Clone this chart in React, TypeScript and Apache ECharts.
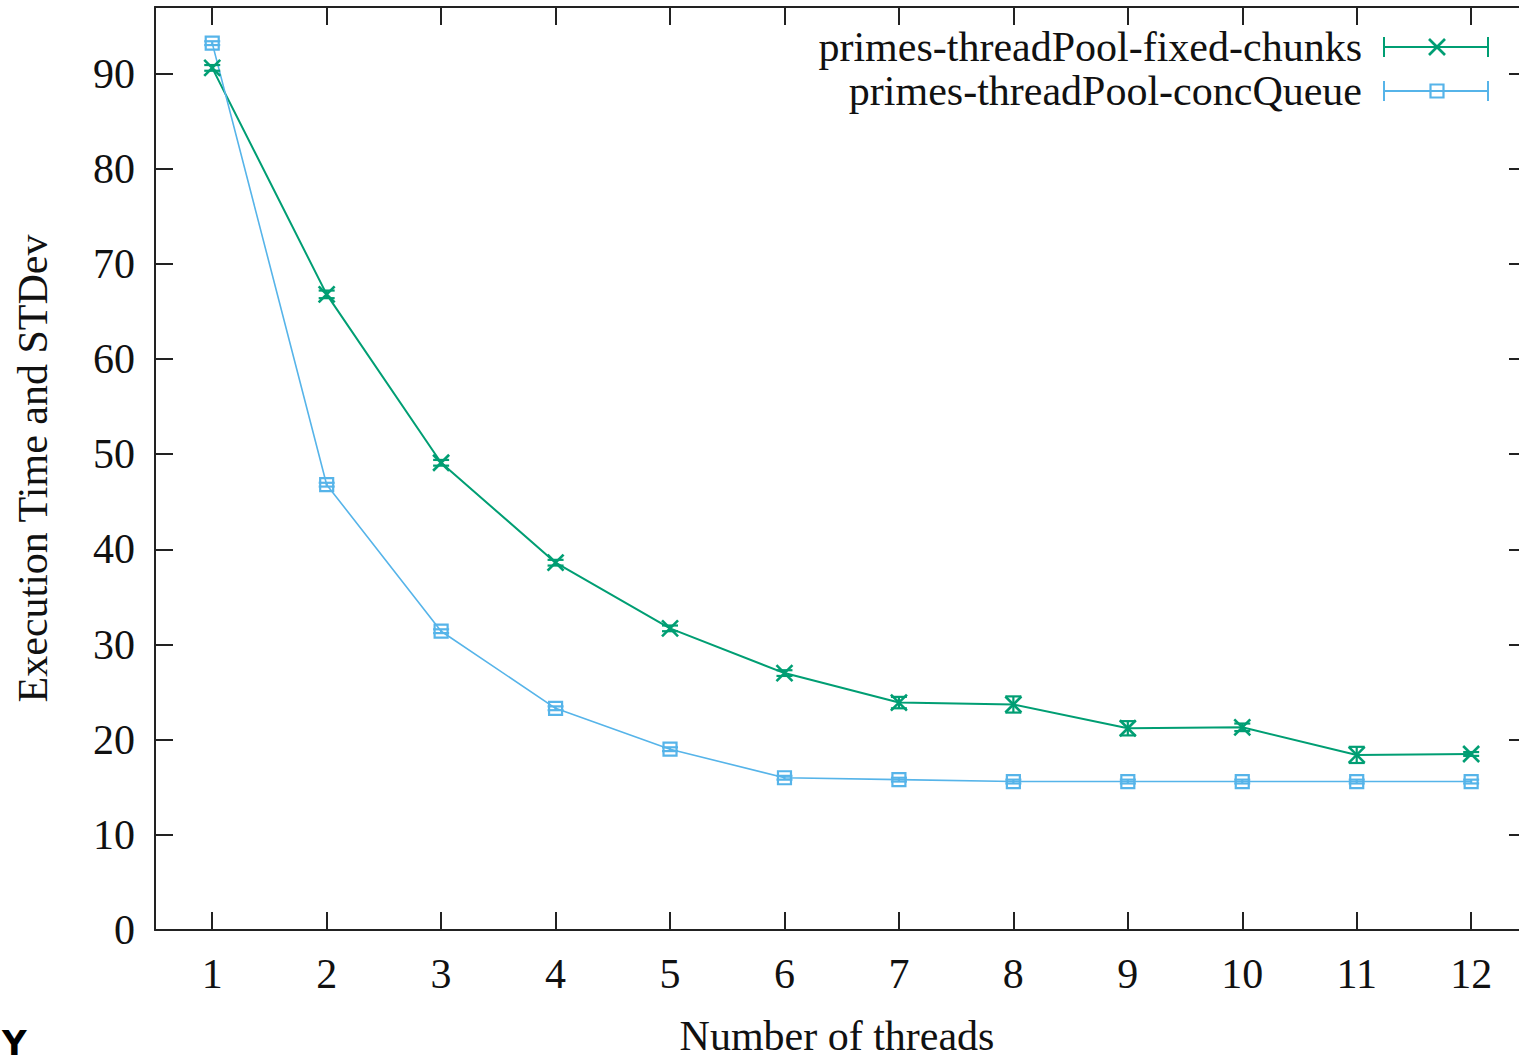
import React, { useEffect, useRef } from "react";
import * as echarts from "echarts";

const threads = [1, 2, 3, 4, 5, 6, 7, 8, 9, 10, 11, 12];
const seriesNames = ["primes-threadPool-fixed-chunks", "primes-threadPool-concQueue"];
const fixedChunksMean = [90.6, 66.8, 49.1, 38.6, 31.7, 27.0, 23.9, 23.7, 21.2, 21.3, 18.4, 18.5];
const fixedChunksStd = [0.3, 0.4, 0.3, 0.3, 0.3, 0.3, 0.6, 0.85, 0.75, 0.4, 0.85, 0.2];
const concQueueMean = [93.2, 46.8, 31.4, 23.3, 19.0, 16.0, 15.8, 15.6, 15.6, 15.6, 15.6, 15.6];
const concQueueStd = [0.2, 0.2, 0.2, 0.2, 0.2, 0.2, 0.2, 0.2, 0.2, 0.2, 0.2, 0.2];
const yTicks = [0, 10, 20, 30, 40, 50, 60, 70, 80, 90];
const yMax = 97;
const xMin = 0.5;
const xMax = 12.418;

const GREEN = "#009e73";
const BLUE = "#56b4e9";
const FONT = "'Liberation Serif', 'Times New Roman', serif";
const AXIS = "#222222";
const FS = 42;

function markerChildren(kind: string, cx: number, cy: number, color: string) {
  const s = 8;
  if (kind === "cross") {
    return [
      { type: "line", shape: { x1: cx - s, y1: cy - s, x2: cx + s, y2: cy + s }, style: { stroke: color, lineWidth: 2.6 } },
      { type: "line", shape: { x1: cx - s, y1: cy + s, x2: cx + s, y2: cy - s }, style: { stroke: color, lineWidth: 2.6 } },
    ];
  }
  return [
    { type: "rect", shape: { x: cx - 6.5, y: cy - 6.5, width: 13, height: 13 }, style: { stroke: color, lineWidth: 2.2, fill: "none" } },
  ];
}

function errorSeries(name: string, mean: number[], std: number[], color: string, kind: string) {
  return {
    type: "custom",
    name: name + " err",
    xAxisIndex: 0,
    yAxisIndex: 0,
    z: 5,
    data: mean.map((m, i) => [threads[i], m, std[i]]),
    renderItem: (params: any, api: any) => {
      const x = api.value(0);
      const m = api.value(1);
      const sd = api.value(2);
      const c = api.coord([x, m]);
      const top = api.coord([x, m + sd]);
      const bot = api.coord([x, m - sd]);
      const cap = 8;
      const st = { stroke: color, lineWidth: 2.2 };
      return {
        type: "group",
        children: [
          { type: "line", shape: { x1: c[0], y1: top[1], x2: c[0], y2: bot[1] }, style: st },
          { type: "line", shape: { x1: c[0] - cap, y1: top[1], x2: c[0] + cap, y2: top[1] }, style: st },
          { type: "line", shape: { x1: c[0] - cap, y1: bot[1], x2: c[0] + cap, y2: bot[1] }, style: st },
          ...markerChildren(kind, c[0], c[1], color),
        ],
      };
    },
  };
}

function legendGraphic() {
  const rows = [
    { name: seriesNames[0], color: GREEN, kind: "cross", y: 47 },
    { name: seriesNames[1], color: BLUE, kind: "square", y: 91 },
  ];
  const els: any[] = [];
  rows.forEach((r) => {
    els.push({
      type: "text",
      x: 1362,
      y: r.y,
      style: { text: r.name, font: `${FS}px ${FONT}`, fill: "#111", align: "right", verticalAlign: "middle" },
    });
    const st = { stroke: r.color, lineWidth: 2 };
    els.push({ type: "line", shape: { x1: 1384, y1: r.y, x2: 1488, y2: r.y }, style: st });
    els.push({ type: "line", shape: { x1: 1384, y1: r.y - 10, x2: 1384, y2: r.y + 10 }, style: st });
    els.push({ type: "line", shape: { x1: 1488, y1: r.y - 10, x2: 1488, y2: r.y + 10 }, style: st });
    markerChildren(r.kind, 1437, r.y, r.color).forEach((m: any) => els.push(m));
  });
  els.push({
    type: "text",
    x: 2,
    y: 1026,
    style: { text: "Y", font: "bold 34px 'DejaVu Sans', sans-serif", fill: "#000" },
  });
  return els;
}

export default function App() {
  const ref = useRef<HTMLDivElement>(null);
  useEffect(() => {
    if (!ref.current) return;
    const chart = echarts.init(ref.current, null, { renderer: "svg" });
    const axisLineStyle = { color: AXIS, width: 2 };
    chart.setOption({
      animation: false,
      backgroundColor: "#ffffff",
      grid: { left: 155, top: 7, right: 0, bottom: 127, containLabel: false },
      xAxis: [
        {
          type: "value",
          min: xMin,
          max: xMax,
          position: "bottom",
          name: "Number of threads",
          nameLocation: "middle",
          nameGap: 85,
          nameTextStyle: { fontFamily: FONT, fontSize: FS, color: "#111" },
          axisLine: { show: true, onZero: false, lineStyle: axisLineStyle },
          axisTick: { show: true, inside: true, length: 18, lineStyle: axisLineStyle, customValues: threads },
          axisLabel: { fontFamily: FONT, fontSize: FS, color: "#111", margin: 23, customValues: threads },
          splitLine: { show: false },
        },
        {
          type: "value",
          min: xMin,
          max: xMax,
          position: "top",
          axisLine: { show: true, onZero: false, lineStyle: axisLineStyle },
          axisTick: { show: true, inside: true, length: 18, lineStyle: axisLineStyle, customValues: threads },
          axisLabel: { show: false, customValues: threads },
          splitLine: { show: false },
        },
      ],
      yAxis: [
        {
          type: "value",
          min: 0,
          max: yMax,
          position: "left",
          name: "Execution Time and STDev",
          nameLocation: "middle",
          nameGap: 101,
          nameTextStyle: { fontFamily: FONT, fontSize: FS, color: "#111" },
          axisLine: { show: true, onZero: false, lineStyle: axisLineStyle },
          axisTick: { show: true, inside: true, length: 18, lineStyle: axisLineStyle, customValues: yTicks },
          axisLabel: { fontFamily: FONT, fontSize: FS, color: "#111", margin: 20, padding: [10, 0, 0, 0], customValues: yTicks },
          splitLine: { show: false },
        },
        {
          type: "value",
          min: 0,
          max: yMax,
          position: "right",
          axisLine: { show: false },
          axisTick: { show: true, inside: true, length: 10, lineStyle: axisLineStyle, customValues: yTicks },
          axisLabel: { show: false, customValues: yTicks },
          splitLine: { show: false },
        },
      ],
      series: [
        {
          type: "line",
          name: seriesNames[0],
          data: fixedChunksMean.map((v, i) => [threads[i], v]),
          showSymbol: false,
          symbol: "none",
          lineStyle: { color: GREEN, width: 2 },
          itemStyle: { color: GREEN },
          z: 3,
        },
        {
          type: "line",
          name: seriesNames[1],
          data: concQueueMean.map((v, i) => [threads[i], v]),
          showSymbol: false,
          symbol: "none",
          lineStyle: { color: BLUE, width: 1.6 },
          itemStyle: { color: BLUE },
          z: 3,
        },
        errorSeries(seriesNames[0], fixedChunksMean, fixedChunksStd, GREEN, "cross"),
        errorSeries(seriesNames[1], concQueueMean, concQueueStd, BLUE, "square"),
      ],
      graphic: legendGraphic(),
    });
    return () => chart.dispose();
  }, []);
  return (
    <div
      ref={ref}
      style={{ position: "fixed", left: 0, top: 0, width: 1519, height: 1062, background: "#fff" }}
    />
  );
}
